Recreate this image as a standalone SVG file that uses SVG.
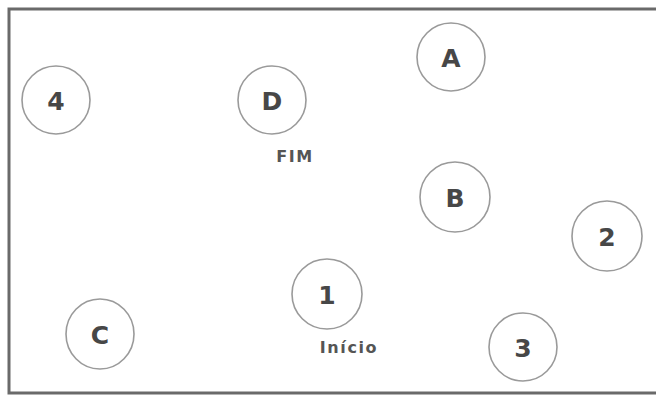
<svg xmlns="http://www.w3.org/2000/svg" width="656" height="396" viewBox="0 0 656 396">
<style>
.n ellipse{fill:#fff;stroke:#9a9a9a;stroke-width:1.6}
.n text{font-family:"DejaVu Sans",Verdana,sans-serif;font-weight:bold;font-size:25px;fill:#474747;text-anchor:middle;dominant-baseline:central}
.lbl{font-family:"DejaVu Sans",Verdana,sans-serif;font-weight:bold;font-size:16px;fill:#555;text-anchor:middle;letter-spacing:1.6px}
</style>
<rect width="656" height="396" fill="#fff"/>
<path d="M670 9 H9 V393 H670" fill="none" stroke="#6a6a6a" stroke-width="3"/>
<g id="connectors"/>
<g id="n4" class="n"><ellipse cx="56" cy="100" rx="34" ry="34"/><text x="56" y="101">4</text></g>
<g id="nD" class="n"><ellipse cx="272" cy="100" rx="34" ry="34"/><text x="272" y="101">D</text></g>
<g id="nA" class="n"><ellipse cx="451" cy="57" rx="34" ry="34"/><text x="451" y="58">A</text></g>
<g id="nB" class="n"><ellipse cx="455" cy="197" rx="35" ry="35"/><text x="455" y="198">B</text></g>
<g id="n2" class="n"><ellipse cx="607" cy="236" rx="35" ry="35"/><text x="607" y="237">2</text></g>
<g id="n1" class="n"><ellipse cx="327" cy="294" rx="35" ry="35"/><text x="327" y="295">1</text></g>
<g id="nC" class="n"><ellipse cx="100" cy="334" rx="34" ry="35"/><text x="100" y="335">C</text></g>
<g id="n3" class="n"><ellipse cx="523" cy="347" rx="34" ry="34"/><text x="523" y="348">3</text></g>
<text class="lbl" x="295" y="162">FIM</text>
<text class="lbl" x="349" y="353" font-size="16.5">Início</text>
</svg>
